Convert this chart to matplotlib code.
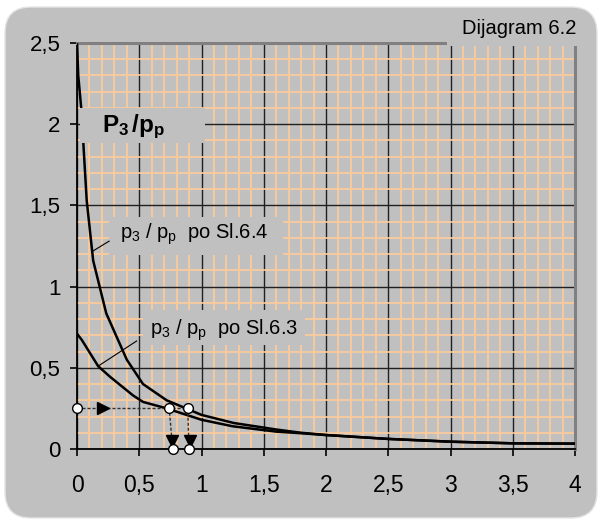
import matplotlib
matplotlib.use("Agg")
import matplotlib.pyplot as plt
from matplotlib.patches import FancyBboxPatch, Rectangle

plt.rcParams['font.family'] = ['Liberation Sans', 'DejaVu Sans']
plt.rcParams['mathtext.fontset'] = 'custom'
plt.rcParams['mathtext.rm'] = 'Liberation Sans'
plt.rcParams['mathtext.it'] = 'Liberation Sans'
plt.rcParams['mathtext.bf'] = 'Liberation Sans:bold'

# curve p3/pp po Sl.6.4
x_64 = [0, 0.01, 0.035, 0.078, 0.13, 0.235, 0.40, 0.53, 0.72, 1.0, 1.26, 1.6, 1.8, 2.0, 2.5, 3.0, 3.5, 4.0]
y_64 = [2.5, 2.3, 2.09, 1.53, 1.16, 0.835, 0.55, 0.40, 0.30, 0.21, 0.16, 0.12, 0.10, 0.086, 0.062, 0.045, 0.035, 0.033]

# curve p3/pp po Sl.6.3
x_63 = [0, 0.04, 0.17, 0.265, 0.45, 0.53, 0.72, 1.0, 1.25, 1.6, 1.8, 2.0, 2.5, 3.0, 3.5, 4.0]
y_63 = [0.71, 0.67, 0.51, 0.445, 0.33, 0.29, 0.25, 0.18, 0.14, 0.107, 0.097, 0.086, 0.062, 0.045, 0.035, 0.033]

# reading example: start, points on curves, results on x axis
read_y = 0.254
read_x_top = [0.74, 0.889]
read_x_bottom = [0.769, 0.90]

x_ticks = [0, 0.5, 1, 1.5, 2, 2.5, 3, 3.5, 4]
y_ticks = [0, 0.5, 1, 1.5, 2, 2.5]


def comma(v):
    return ('%g' % v).replace('.', ',')


gray = '#c0c0c0'
fig = plt.figure(figsize=(5.98, 5.2), dpi=100)
fig.patch.set_facecolor('white')
bg = FancyBboxPatch((5, 2), 592, 511, boxstyle='round,pad=0,rounding_size=26',
                    transform=None, facecolor=gray, edgecolor='#e4e4e4', linewidth=1, zorder=-10)
fig.patches.append(bg)

ax = fig.add_axes([77 / 598, 1 - 449 / 520, 498 / 598, 406 / 520])
ax.set_facecolor(gray)
ax.set_xlim(0, 4)
ax.set_ylim(0, 2.5)

ax.set_xticks(x_ticks)
ax.set_xticklabels([comma(v) for v in x_ticks])
ax.set_yticks(y_ticks)
ax.set_yticklabels([comma(v) for v in y_ticks])
ax.set_xticks([i / 10 for i in range(41)], minor=True)
ax.set_yticks([i / 10 for i in range(26)], minor=True)
ax.grid(which='minor', color='#ffcc99', linewidth=1.2, zorder=0)
ax.grid(which='major', color='#202020', linewidth=1.0, zorder=0)
ax.set_axisbelow(True)
ax.tick_params(which='minor', length=0)
ax.tick_params(axis='y', which='major', direction='out', length=5, width=1.2, pad=7, labelsize=16)
ax.tick_params(axis='x', which='major', direction='out', length=5, width=1.2, pad=13, labelsize=16.5)

for s in ['left', 'bottom']:
    ax.spines[s].set_color('black')
    ax.spines[s].set_linewidth(1.3)
for s in ['top', 'right']:
    ax.spines[s].set_color('#808080')
    ax.spines[s].set_linewidth(2.2)

ax.plot(x_64, y_64, color='black', linewidth=1.8, zorder=3)
ax.plot(x_63, y_63, color='black', linewidth=1.8, zorder=3)

# dashed reading lines with arrow heads
dash = (0, (2.2, 1.4))
ax.plot([0, read_x_top[1]], [read_y, read_y], color='#303030', linewidth=1, linestyle=dash, zorder=4)
for xt, xb in zip(read_x_top, read_x_bottom):
    ax.plot([xt, xb], [read_y, 0], color='#303030', linewidth=1, linestyle=dash, zorder=4)
    ax.plot([(xt + xb) / 2 + 0.01], [0.05], marker='v', markersize=8, color='black', zorder=5, clip_on=False)
ax.plot([0.21], [read_y], marker='>', markersize=8, color='black', zorder=5)
ax.plot([0] + read_x_top, [read_y] * 3, linestyle='none', marker='o', markersize=7,
        markerfacecolor='white', markeredgecolor='black', markeredgewidth=1, zorder=6, clip_on=False)
ax.plot(read_x_bottom, [0, 0], linestyle='none', marker='o', markersize=7,
        markerfacecolor='white', markeredgecolor='black', markeredgewidth=1, zorder=6, clip_on=False)

# label boxes
ax.add_patch(Rectangle((0.024, 1.884), 1.004, 0.216, facecolor=gray, edgecolor='none', zorder=7))
ax.text(0.2, 1.985, r'$\mathbf{P_3\,/p_p}$', fontsize=17.5, va='center', ha='left', zorder=8)

ax.add_patch(Rectangle((0.257, 1.195), 1.40, 0.234, facecolor=gray, edgecolor='none', zorder=7))
ax.text(0.345, 1.325, r'p$\mathregular{_3}$ / p$\mathregular{_p}$  po Sl.6.4', fontsize=14.5,
        va='center', ha='left', zorder=8)
ax.plot([0.128, 0.258], [1.219, 1.28], color='black', linewidth=0.8, zorder=8)

ax.add_patch(Rectangle((0.53, 0.64), 1.30, 0.216, facecolor=gray, edgecolor='none', zorder=7))
ax.text(0.586, 0.73, r'p$\mathregular{_3}$ / p$\mathregular{_p}$  po Sl.6.3', fontsize=14.5,
        va='center', ha='left', zorder=8)
ax.plot([0.171, 0.479], [0.511, 0.665], color='black', linewidth=0.8, zorder=8)

# diagram caption
fig.patches.append(Rectangle((447, 520 - 46), 135, 36, transform=None, facecolor=gray,
                             edgecolor='none', zorder=5))
fig.text(576 / 598, 1 - 28 / 520, 'Dijagram 6.2', fontsize=14.5, ha='right', va='center', zorder=6)

fig.savefig('out.png', dpi=100)
